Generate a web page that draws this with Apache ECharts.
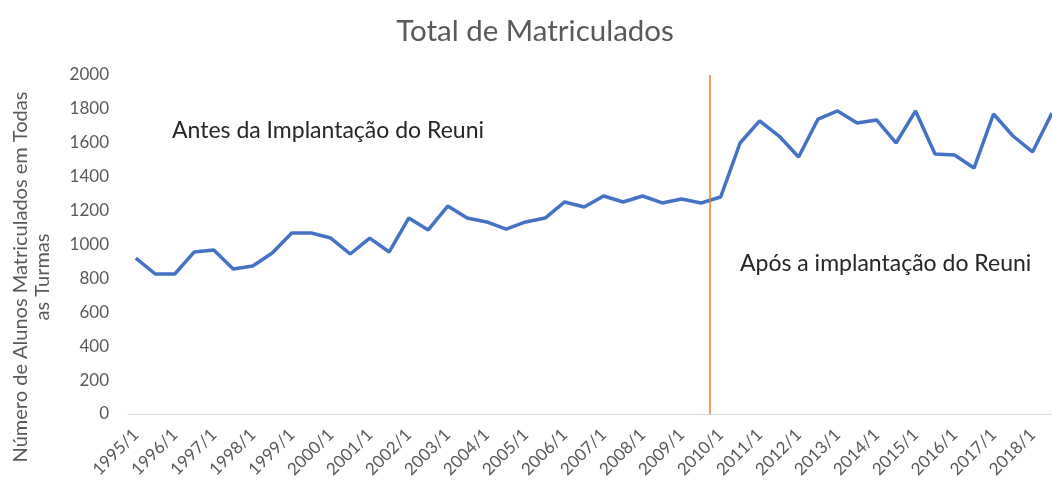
<!DOCTYPE html>
<html lang="pt">
<head>
    <meta charset="UTF-8">
    <title>Total de Matriculados</title>
    <script src="https://cdn.jsdelivr.net/npm/echarts@6/dist/echarts.min.js"></script>
    <style>
        html, body { margin: 0; padding: 0; background: #fff; }
        #main { width: 1052px; height: 480px; }
    </style>
</head>
<body>
<div id="main"></div>
<script type="text/javascript">
    // semestres
    var semestres = [
        '1995/1', '1995/2', '1996/1', '1996/2', '1997/1', '1997/2', '1998/1', '1998/2',
        '1999/1', '1999/2', '2000/1', '2000/2', '2001/1', '2001/2', '2002/1', '2002/2',
        '2003/1', '2003/2', '2004/1', '2004/2', '2005/1', '2005/2', '2006/1', '2006/2',
        '2007/1', '2007/2', '2008/1', '2008/2', '2009/1', '2009/2', '2010/1', '2010/2',
        '2011/1', '2011/2', '2012/1', '2012/2', '2013/1', '2013/2', '2014/1', '2014/2',
        '2015/1', '2015/2', '2016/1', '2016/2', '2017/1', '2017/2', '2018/1', '2018/2'
    ];

    // total de matriculados por semestre
    var matriculados = [
        920, 826, 826, 956, 967, 855, 873, 950,
        1068, 1068, 1038, 944, 1038, 956, 1156, 1086,
        1227, 1156, 1133, 1091, 1133, 1156, 1251, 1221,
        1286, 1251, 1286, 1245, 1268, 1245, 1280, 1599,
        1729, 1640, 1516, 1740, 1788, 1717, 1735, 1599,
        1788, 1534, 1528, 1451, 1770, 1640, 1546, 1776
    ];

    var yTicks = [0, 200, 400, 600, 800, 1000, 1200, 1400, 1600, 1800, 2000];

    // linha laranja: implantacao do Reuni (entre 2009/2 e 2010/1)
    var posReuni = 29.45;

    var textoAntes = 'Antes da Implantação do Reuni';
    var textoApos = 'Após a implantação do Reuni';

    var fonte = 'Lato, "Open Sans", sans-serif';
    var cinza = '#595959';

    // so os semestres "/1" recebem rotulo
    var posRotulos = [];
    semestres.forEach(function (s, i) {
        if (s.slice(-2) === '/1') posRotulos.push(i);
    });

    var myChart = echarts.init(document.getElementById('main'));

    myChart.setOption({
        backgroundColor: '#fff',
        animation: false,
        title: {
            text: 'Total de Matriculados',
            left: 530,
            textAlign: 'center',
            top: 11,
            textStyle: { fontFamily: fonte, fontSize: 29.5, fontWeight: 'normal', color: cinza }
        },
        grid: {
            left: 128, right: 0, top: 75, bottom: 66,
            outerBoundsMode: 'none'
        },
        xAxis: {
            type: 'value',
            min: -0.4,
            max: 47,
            axisLine: { show: true, lineStyle: { color: '#d9d9d9', width: 1 } },
            axisTick: { show: false },
            splitLine: { show: false },
            axisLabel: {
                customValues: posRotulos,
                formatter: function (v) { return semestres[v]; },
                rotate: 45,
                margin: 18,
                fontFamily: fonte,
                fontSize: 17,
                color: cinza
            }
        },
        yAxis: {
            type: 'value',
            min: yTicks[0],
            max: yTicks[yTicks.length - 1],
            interval: 200,
            axisLine: { show: false },
            axisTick: { show: false },
            splitLine: { show: false },
            axisLabel: {
                margin: 19, fontFamily: fonte, fontSize: 17, color: cinza,
                formatter: function (v) { return String(v); }
            }
        },
        graphic: [
            {
                type: 'text',
                x: 32, y: 277,
                rotation: Math.PI / 2,
                style: {
                    text: 'Número de Alunos Matriculados em Todas\nas Turmas',
                    textAlign: 'center',
                    textVerticalAlign: 'middle',
                    font: '20px ' + fonte,
                    lineHeight: 22,
                    fill: cinza
                }
            },
            {
                type: 'text',
                x: 172, y: 131,
                style: { text: textoAntes, textVerticalAlign: 'middle', font: '23px ' + fonte, fill: '#262626' }
            },
            {
                type: 'text',
                x: 740, y: 264,
                style: { text: textoApos, textVerticalAlign: 'middle', font: '23px ' + fonte, fill: '#262626' }
            }
        ],
        series: [{
            type: 'line',
            data: matriculados.map(function (v, i) { return [i, v]; }),
            symbol: 'none',
            lineStyle: { color: '#4472C4', width: 3.5 },
            markLine: {
                silent: true,
                symbol: 'none',
                label: { show: false },
                lineStyle: { color: '#ED7D31', width: 1.5, type: 'solid' },
                data: [{ xAxis: posReuni }]
            }
        }]
    });
</script>
</body>
</html>
